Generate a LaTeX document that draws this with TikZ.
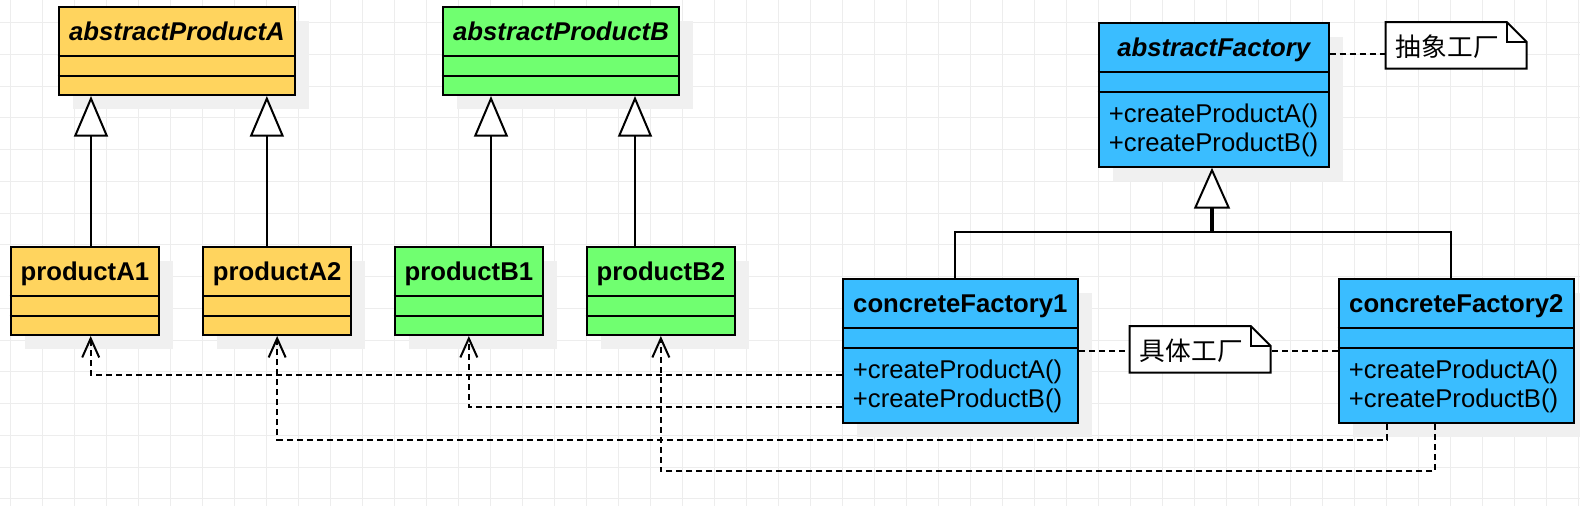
\documentclass[tikz,border=0pt]{standalone}
\usepackage{fontspec}
\setmainfont{Liberation Sans}
\newfontfamily\cjk{Noto Sans CJK SC}
\usetikzlibrary{arrows.meta,shadows,calc}
\definecolor{cyel}{HTML}{FFD45E}
\definecolor{cgrn}{HTML}{70FF70}
\definecolor{cblu}{HTML}{3ABDFF}
\tikzset{
  gridl/.style={draw=black!7, line width=1pt},
  cls/.style={draw=black, line width=2pt, rectangle, inner sep=0pt, anchor=north west,
    drop shadow={shadow xshift=14pt, shadow yshift=-14pt, fill=black!6, opacity=1}},
  prod/.style={cls, minimum width=148.3pt, minimum height=88.3pt},
  absprod/.style={cls, minimum width=236.6pt, minimum height=88.3pt},
  fac/.style={cls, minimum width=235.3pt, minimum height=144.3pt, fill=cblu},
  divl/.style={draw=black, line width=2pt},
  cname/.style={font=\fontsize{25.7}{30}\selectfont\bfseries, anchor=base, inner sep=0pt},
  aname/.style={font=\fontsize{25.7}{30}\selectfont\bfseries\itshape, anchor=base, inner sep=0pt},
  meth/.style={font=\fontsize{25.7}{30}\selectfont, anchor=base west, inner sep=0pt},
  notebox/.style={minimum width=140.6pt, minimum height=46.3pt, anchor=north west, inner sep=0pt, draw=none},
  notedraw/.style={draw=black, line width=2pt, fill=white, line join=miter},
  notetext/.style={font=\fontsize{25.7}{30}\selectfont\cjk, anchor=west, inner sep=0pt},
  inh/.style={line width=2pt, -{Triangle[length=40.7pt, width=34pt, fill=white]}},
  dep/.style={line width=2pt, dash pattern=on 6pt off 4pt, -{Straight Barb[length=19pt, width=17pt]}},
  lnk/.style={line width=2pt, dash pattern=on 6pt off 4pt},
}
\newcommand\clsdivs[3]{%
  \draw[divl] ([yshift=-#2pt]#1.north west) -- ([yshift=-#2pt]#1.north east);
  \draw[divl] ([yshift=-#3pt]#1.north west) -- ([yshift=-#3pt]#1.north east);}
\begin{document}
\begin{tikzpicture}[x=1pt,y=-1pt]
\useasboundingbox (0,0) rectangle (1580,506);
\fill[white] (0,0) rectangle (1580,506);
\foreach \i in {0,...,49} {\draw[gridl] ({10.7+32*\i},0) -- ({10.7+32*\i},506);}
\foreach \j in {0,...,15} {\draw[gridl] (0,{22.7+31.75*\j}) -- (1580,{22.7+31.75*\j});}

% abstract products
\node[absprod, fill=cyel] (aPA) at (57.7,5.7) {};
\node[absprod, fill=cgrn] (aPB) at (441.7,5.7) {};
% products
\node[prod, fill=cyel] (pA1) at (9.7,245.7) {};
\node[prod, fill=cyel] (pA2) at (202,245.7) {};
\node[prod, fill=cgrn] (pB1) at (393.7,245.7) {};
\node[prod, fill=cgrn] (pB2) at (585.7,245.7) {};
% factories
\node[fac, minimum width=230pt, minimum height=143.7pt] (AF) at (1097.7,22) {};
\node[fac] (cf1) at (841.7,277.7) {};
\node[fac] (cf2) at (1337.7,277.7) {};

\clsdivs{aPA}{50.3}{70.3}
\clsdivs{aPB}{50.3}{70.3}
\clsdivs{pA1}{50.3}{70.3}
\clsdivs{pA2}{50.3}{70.3}
\clsdivs{pB1}{50.3}{70.3}
\clsdivs{pB2}{50.3}{70.3}
\clsdivs{AF}{49.5}{69.5}
\clsdivs{cf1}{50.3}{70.3}
\clsdivs{cf2}{50.3}{70.3}

% names
\node[aname] (aPAt) at ([yshift=-34.3pt]aPA.north) {abstractProductA};
\node[aname] (aPBt) at ([yshift=-34.3pt]aPB.north) {abstractProductB};
\node[aname] (AFt) at ([yshift=-34pt]AF.north) {abstractFactory};
\node[cname] (pA1t) at ([yshift=-34.3pt]pA1.north) {productA1};
\node[cname] (pA2t) at ([yshift=-34.3pt]pA2.north) {productA2};
\node[cname] (pB1t) at ([yshift=-34.3pt]pB1.north) {productB1};
\node[cname] (pB2t) at ([yshift=-34.3pt]pB2.north) {productB2};
\node[cname] (cf1t) at ([yshift=-34.3pt]cf1.north) {concreteFactory1};
\node[cname] (cf2t) at ([yshift=-34.3pt]cf2.north) {concreteFactory2};
% methods
\node[meth] (AFm1) at ([xshift=11pt,yshift=-100.5pt]AF.north west) {+createProductA()};
\node[meth] (AFm2) at ([xshift=11pt,yshift=-129.5pt]AF.north west) {+createProductB()};
\node[meth] (cf1m1) at ([xshift=11pt,yshift=-100.5pt]cf1.north west) {+createProductA()};
\node[meth] (cf1m2) at ([xshift=11pt,yshift=-129.5pt]cf1.north west) {+createProductB()};
\node[meth] (cf2m1) at ([xshift=11pt,yshift=-100.5pt]cf2.north west) {+createProductA()};
\node[meth] (cf2m2) at ([xshift=11pt,yshift=-129.5pt]cf2.north west) {+createProductB()};

% inheritance of products
\coordinate (iA1) at ([xshift=6.15pt]pA1.north);
\coordinate (iA2) at ([xshift=-10.3pt]pA2.north);
\coordinate (iB1) at ([xshift=22.15pt]pB1.north);
\coordinate (iB2) at ([xshift=-25.85pt]pB2.north);
\draw[inh] (iA1) -- (iA1 |- aPA.south);
\draw[inh] (iA2) -- (iA2 |- aPA.south);
\draw[inh] (iB1) -- (iB1 |- aPB.south);
\draw[inh] (iB2) -- (iB2 |- aPB.south);

% inheritance of factories
\coordinate (f1) at ([xshift=-5.65pt]cf1.north);
\coordinate (f2) at ([xshift=-5.35pt]cf2.north);
\coordinate (fj) at ([xshift=-1.7pt]AF.south);
\coordinate (fh) at ($(fj)+(0,64.3)$);
\draw[line width=2pt] (f1) |- (fh) -| (f2);
\draw[line width=3.5pt, -{Triangle[length=41pt, width=36pt, fill=white, line width=2pt]}] (fh) -- (fj);

% dependencies
\draw[dep] ([yshift=-24.15pt]cf1.west) -| ([xshift=5.85pt]pA1.south);
\draw[dep] ([yshift=-55.85pt]cf1.west) -| (pB1.south);
\draw[dep] ([xshift=-69.35pt]cf2.south) -- ++(0,15.7) -| (pA2.south);
\draw[dep] ([xshift=-21.35pt]cf2.south) -- ++(0,47.3) -| (pB2.south);

% notes
\node[notebox] (n1) at (1385.7,22) {};
\node[notebox] (n2) at (1129.7,326) {};
\foreach \n in {n1,n2} {
  \draw[notedraw] (\n.north west) -- ([xshift=-20pt]\n.north east) -- ([yshift=-20pt]\n.north east) -- (\n.south east) -- (\n.south west) -- cycle;
  \draw[notedraw, fill=none] ([xshift=-20pt]\n.north east) -- ([xshift=-20pt,yshift=-20pt]\n.north east) -- ([yshift=-20pt]\n.north east);
}
\node[notetext] (n1t) at ([xshift=10pt,yshift=-1pt]n1.west) {抽象工厂};
\node[notetext] (n2t) at ([xshift=10pt,yshift=-1pt]n2.west) {具体工厂};

% note links
\coordinate (afl) at ([yshift=40.55pt]AF.east);
\draw[lnk] (afl) -- (afl -| n1.west);
\draw[lnk] (cf1.east) -- (cf1.east -| n2.west);
\draw[lnk] (cf2.west) -- (cf2.west -| n2.east);
\end{tikzpicture}
\end{document}
